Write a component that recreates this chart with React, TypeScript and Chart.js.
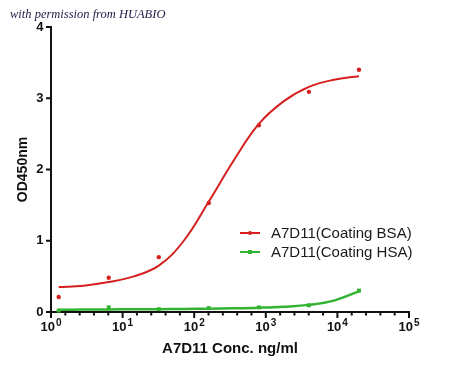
import React, { useEffect, useRef } from 'react';
import { Chart, registerables } from 'chart.js';

Chart.register(...registerables);

// ---- data ----
const seriesLabels = ['A7D11(Coating BSA)', 'A7D11(Coating HSA)'];
const seriesColors = ['rgb(214,32,32)', 'rgb(50,180,50)'];

const concentrations = [1.28, 6.4, 32, 160, 800, 4000, 20000];
const bsaOD = [0.21, 0.48, 0.77, 1.53, 2.62, 3.09, 3.4];
const hsaOD = [0.02, 0.065, 0.04, 0.055, 0.065, 0.094, 0.3];

const fitConcentrations = [1.28, 2.86, 6.4, 14.3, 32, 71.6, 160, 358, 800, 1789, 4000, 8944, 20000];
const bsaFit = [0.35, 0.37, 0.42, 0.5, 0.65, 1.0, 1.55, 2.13, 2.64, 2.96, 3.16, 3.26, 3.31];
const hsaFit = [0.032, 0.034, 0.036, 0.038, 0.04, 0.043, 0.047, 0.052, 0.06, 0.074, 0.1, 0.16, 0.29];

const xTickExponents = [0, 1, 2, 3, 4, 5];
const xMinorPerDecade = 5;
const yTickValues = [0, 1, 2, 3, 4];

const xTitle = 'A7D11 Conc. ng/ml';
const yTitle = 'OD450nm';
const watermark = 'with permission from HUABIO';

const FONT = '"Liberation Sans", Arial, sans-serif';

const axesPlugin = {
  id: 'customAxes',
  beforeDatasetsDraw(chart: any) {
    const { ctx, scales } = chart;
    const x = scales.x;
    const y = scales.y;
    const xMin = Math.pow(10, xTickExponents[0]);
    const xMax = Math.pow(10, xTickExponents[xTickExponents.length - 1]);
    const x0 = x.getPixelForValue(xMin);
    const x1 = x.getPixelForValue(xMax);
    const y0 = y.getPixelForValue(yTickValues[0]);
    const y1 = y.getPixelForValue(yTickValues[yTickValues.length - 1]);
    ctx.save();
    ctx.strokeStyle = '#111';
    ctx.lineWidth = 2;
    ctx.lineCap = 'square';
    ctx.beginPath();
    ctx.moveTo(x0, y1);
    ctx.lineTo(x0, y0);
    ctx.lineTo(x1, y0);
    ctx.stroke();
    ctx.lineCap = 'butt';
    const first = xTickExponents[0] * xMinorPerDecade;
    const last = xTickExponents[xTickExponents.length - 1] * xMinorPerDecade;
    for (let k = first; k <= last; k++) {
      const px = x.getPixelForValue(Math.pow(10, k / xMinorPerDecade));
      const len = k % xMinorPerDecade === 0 ? 6 : 3.5;
      ctx.beginPath();
      ctx.moveTo(px, y0);
      ctx.lineTo(px, y0 + len);
      ctx.stroke();
    }
    for (const v of yTickValues) {
      const py = y.getPixelForValue(v);
      ctx.beginPath();
      ctx.moveTo(x0, py);
      ctx.lineTo(x0 - 5, py);
      ctx.stroke();
    }
    ctx.restore();
  },
  afterDraw(chart: any) {
    const { ctx, scales } = chart;
    const x = scales.x;
    const y = scales.y;
    const y0 = y.getPixelForValue(0);
    ctx.save();
    ctx.fillStyle = '#111';
    ctx.textBaseline = 'alphabetic';
    ctx.textAlign = 'left';
    for (const e of xTickExponents) {
      const px = x.getPixelForValue(Math.pow(10, e));
      ctx.font = `bold 13px ${FONT}`;
      const wBase = ctx.measureText('10').width;
      ctx.font = `bold 10px ${FONT}`;
      const wSup = ctx.measureText(String(e)).width;
      const start = px - (wBase + wSup + 1) / 2;
      ctx.font = `bold 13px ${FONT}`;
      ctx.fillText('10', start, y0 + 18.5);
      ctx.font = `bold 10px ${FONT}`;
      ctx.fillText(String(e), start + wBase + 1, y0 + 13.5);
    }
    ctx.font = `15px ${FONT}`;
    ctx.textBaseline = 'middle';
    seriesLabels.forEach((label, i) => {
      const ly = 233 + i * 19;
      ctx.strokeStyle = seriesColors[i];
      ctx.fillStyle = seriesColors[i];
      ctx.lineWidth = 2;
      ctx.beginPath();
      ctx.moveTo(240, ly);
      ctx.lineTo(260, ly);
      ctx.stroke();
      ctx.beginPath();
      if (i === 0) {
        ctx.arc(250, ly, 2, 0, Math.PI * 2);
      } else {
        ctx.rect(248, ly - 2, 4, 4);
      }
      ctx.fill();
      ctx.fillStyle = '#1a1a1a';
      ctx.fillText(label, 271, ly + 0.5);
    });
    ctx.font = `italic 12.5px "Liberation Serif", "DejaVu Serif", serif`;
    ctx.fillStyle = '#1c1c45';
    ctx.textBaseline = 'alphabetic';
    ctx.fillText(watermark, 10, 17.5);
    ctx.restore();
  },
};

export default function App() {
  const canvasRef = useRef<HTMLCanvasElement | null>(null);

  useEffect(() => {
    if (!canvasRef.current) return;
    const chart = new Chart(canvasRef.current, {
      type: 'scatter',
      data: {
        datasets: [
          {
            label: seriesLabels[0] + ' fit',
            data: fitConcentrations.map((c, i) => ({ x: c, y: bsaFit[i] })),
            showLine: true,
            borderColor: seriesColors[0],
            borderWidth: 2,
            pointRadius: 0,
            tension: 0.4,
            clip: false,
          },
          {
            label: seriesLabels[0],
            data: concentrations.map((c, i) => ({ x: c, y: bsaOD[i] })),
            showLine: false,
            backgroundColor: seriesColors[0],
            borderColor: seriesColors[0],
            pointRadius: 2.2,
            borderWidth: 0,
            clip: false,
          },
          {
            label: seriesLabels[1] + ' fit',
            data: fitConcentrations.map((c, i) => ({ x: c, y: hsaFit[i] })),
            showLine: true,
            borderColor: seriesColors[1],
            borderWidth: 2.5,
            pointRadius: 0,
            tension: 0.4,
            clip: false,
          },
          {
            label: seriesLabels[1],
            data: concentrations.map((c, i) => ({ x: c, y: hsaOD[i] })),
            showLine: false,
            backgroundColor: seriesColors[1],
            borderColor: seriesColors[1],
            pointStyle: 'rect',
            pointRadius: 2.8,
            borderWidth: 0,
            clip: false,
          },
        ],
      },
      options: {
        animation: false,
        responsive: false,
        maintainAspectRatio: false,
        layout: { padding: { top: 27, right: 41, left: 0, bottom: 0 } },
        plugins: {
          legend: { display: false },
          tooltip: { enabled: false },
          title: { display: false },
        },
        scales: {
          x: {
            type: 'logarithmic',
            min: Math.pow(10, xTickExponents[0]),
            max: Math.pow(10, xTickExponents[xTickExponents.length - 1]),
            grid: { display: false },
            border: { display: false },
            ticks: { display: false },
            title: {
              display: true,
              text: xTitle,
              color: '#111',
              font: { family: FONT, size: 15, weight: 'bold' },
              padding: { top: 0, bottom: 10.3 },
            },
            afterFit: (s: any) => {
              s.height = 56;
            },
          },
          y: {
            type: 'linear',
            min: yTickValues[0],
            max: yTickValues[yTickValues.length - 1],
            grid: { display: false, drawTicks: true, tickLength: 5 },
            border: { display: false },
            ticks: {
              stepSize: 1,
              padding: 2.5,
              color: '#111',
              font: { family: FONT, size: 13, weight: 'bold' },
            },
            afterBuildTicks: (s: any) => {
              s.ticks = yTickValues.map((v) => ({ value: v }));
            },
            title: {
              display: true,
              text: yTitle,
              color: '#111',
              font: { family: FONT, size: 14, weight: 'bold' },
              padding: { top: 14.3, bottom: 0 },
            },
            afterFit: (s: any) => {
              s.width = 51;
            },
          },
        },
      } as any,
      plugins: [axesPlugin],
    });
    return () => chart.destroy();
  }, []);

  return (
    <div style={{ position: 'fixed', left: 0, top: 0, width: 450, height: 368, background: '#fff' }}>
      <canvas ref={canvasRef} width={450} height={368} style={{ width: 450, height: 368 }} />
    </div>
  );
}
